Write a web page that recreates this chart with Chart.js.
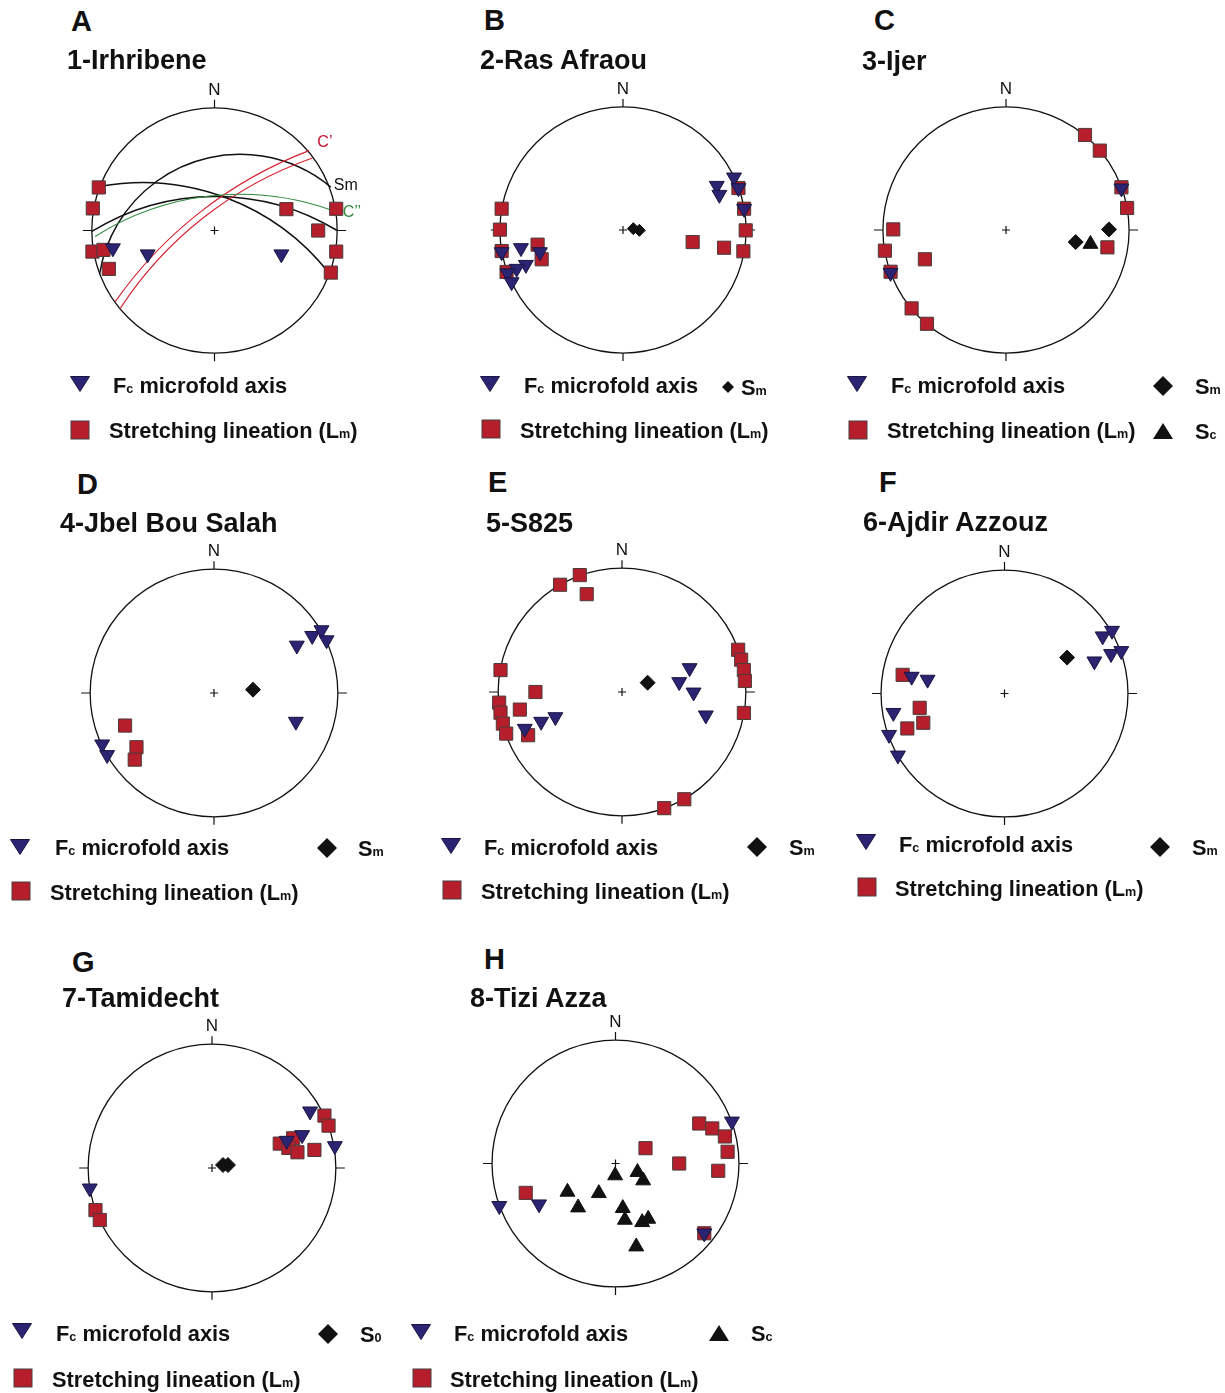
<!DOCTYPE html>
<html>
<head>
<meta charset="utf-8">
<title>Stereonets</title>
<script src="https://cdn.jsdelivr.net/npm/chart.js@4.4.1/dist/chart.umd.min.js"></script>
<style>
    html, body { margin: 0; padding: 0; background: #fff; }
    #page { position: relative; width: 1225px; height: 1393px; overflow: hidden; font-family: "Liberation Sans", Arial, Helvetica, sans-serif; color: #111; }
    #page canvas { position: absolute; }
    .txt { position: absolute; white-space: nowrap; line-height: 1; transform: translateY(-50%); }
    .letter { font-size: 29px; font-weight: bold; }
    .title { font-size: 27px; font-weight: bold; }
    .leg { font-size: 21.8px; font-weight: bold; }
    .leg small { font-size: 0.58em; }
    .sym { position: absolute; }
</style>
</head>
<body>
<div id="page"></div>
<script>
// Projected positions [x, y] on the lower-hemisphere net, unit = primitive radius, north up.

// 1-Irhribene
const irhribeneFold = [[-0.828, -0.144], [-0.545, -0.193], [0.545, -0.193]];
const irhribeneLineation = [
    [-0.943, 0.351], [-0.992, 0.180], [-0.995, -0.172], [-0.905, -0.158], [-0.861, -0.313],
    [0.586, 0.174], [0.992, 0.177], [0.845, 0.0], [0.992, -0.172], [0.948, -0.343],
];
// great circles given as start, inner and end point
const irhribeneSmPlanes = [
    [[-0.937, -0.357], [0.049, 0.610], [0.948, 0.354]],
    [[-0.932, 0.360], [0.030, 0.290], [0.935, -0.349]],
    [[-1.0, -0.008], [0.022, 0.278], [1.0, 0.0]],
];
const irhribeneCPlanes = [
    [[-0.809, -0.580], [-0.117, 0.150], [0.771, 0.651]],
    [[-0.768, -0.635], [-0.060, 0.128], [0.798, 0.591]],
];
const irhribeneCcPlanes = [
    [[-0.973, -0.049], [0.049, 0.289], [0.943, 0.169]],
];

// 2-Ras Afraou
const rasAfraouFold = [
    [-0.986, -0.179], [-0.829, -0.146], [-0.675, -0.179], [-0.789, -0.282], [-0.864, -0.314],
    [-0.938, -0.350], [-0.905, -0.423], [0.762, 0.360], [0.783, 0.287], [0.902, 0.428],
    [0.938, 0.341], [0.984, 0.173],
];
const rasAfraouLineation = [
    [-0.986, 0.173], [-1.0, 0.003], [-0.986, -0.171], [-0.946, -0.341], [-0.694, -0.119],
    [-0.661, -0.238], [0.566, -0.098], [0.821, -0.144], [0.978, -0.173], [0.997, -0.003],
    [0.984, 0.173], [0.938, 0.341],
];
const rasAfraouSm = [[0.084, 0.011], [0.133, -0.003]];

// 3-Ijer
const ijerFold = [[0.938, 0.339], [-0.938, -0.347]];
const ijerLineation = [
    [0.642, 0.772], [0.762, 0.645], [0.938, 0.347], [0.984, 0.179], [-0.916, 0.005],
    [-0.984, -0.168], [-0.938, -0.339], [-0.659, -0.238], [-0.767, -0.637], [-0.642, -0.762],
    [0.824, -0.141],
];
const ijerSm = [[0.837, 0.005], [0.566, -0.098]];
const ijerSc = [[0.686, -0.114]];

// 4-Jbel Bou Salah
const bouSalahFold = [
    [0.669, 0.384], [0.793, 0.462], [0.868, 0.508], [0.909, 0.427], [0.661, -0.231],
    [-0.903, -0.414], [-0.863, -0.500],
];
const bouSalahLineation = [[-0.718, -0.263], [-0.626, -0.438], [-0.640, -0.538]];
const bouSalahSm = [[0.315, 0.027]];

// 5-S825
const s825Fold = [
    [0.546, 0.194], [0.462, 0.081], [0.578, -0.003], [0.677, -0.188], [-0.538, -0.202],
    [-0.653, -0.239], [-0.785, -0.296],
];
const s825Lineation = [
    [-0.500, 0.866], [-0.341, 0.944], [-0.285, 0.790], [-0.981, 0.177], [-0.699, 0.0],
    [-0.992, -0.086], [-0.981, -0.167], [-0.825, -0.142], [-0.962, -0.255], [-0.935, -0.336],
    [-0.758, -0.349], [0.938, 0.341], [0.962, 0.261], [0.984, 0.177], [0.992, 0.089],
    [0.984, -0.169], [0.503, -0.866], [0.341, -0.938],
];
const s825Sm = [[0.207, 0.075]];

// 6-Ajdir Azzouz
const azzouzFold = [
    [0.795, 0.464], [0.871, 0.509], [0.728, 0.261], [0.863, 0.321], [0.946, 0.345],
    [-0.752, 0.137], [-0.623, 0.113], [-0.900, -0.156], [-0.935, -0.334], [-0.863, -0.501],
];
const azzouzLineation = [[-0.825, 0.151], [-0.687, -0.116], [-0.658, -0.237], [-0.787, -0.283]];
const azzouzSm = [[0.507, 0.291]];

// 7-Tamidecht
const tamidechtFold = [[0.792, 0.458], [0.728, 0.267], [0.604, 0.221], [0.992, 0.178], [-0.987, -0.164]];
const tamidechtLineation = [
    [0.908, 0.423], [0.941, 0.342], [0.547, 0.197], [0.655, 0.240], [0.617, 0.162],
    [0.690, 0.127], [0.827, 0.146], [-0.941, -0.340], [-0.906, -0.420],
];
const tamidechtS0 = [[0.089, 0.024], [0.129, 0.024]];

// 8-Tizi Azza
const tiziAzzaFold = [[0.943, 0.341], [-0.941, -0.343], [-0.619, -0.330], [0.719, -0.565]];
const tiziAzzaLineation = [
    [0.678, 0.324], [0.784, 0.284], [0.886, 0.219], [0.908, 0.095], [0.832, -0.059],
    [0.516, 0.0], [0.243, 0.124], [-0.727, -0.238], [0.719, -0.565],
];
const tiziAzzaSc = [
    [-0.003, -0.097], [0.178, -0.070], [0.224, -0.138], [-0.389, -0.230], [-0.135, -0.241],
    [-0.303, -0.357], [0.059, -0.362], [0.076, -0.457], [0.216, -0.476], [0.265, -0.449],
    [0.168, -0.673],
];

const NAVY = '#2b2472';
const RED = '#b61e2b';
const EXTENT = 1.3;

const panels = [
    { letter: 'A', title: '1-Irhribene', cx: 214, cy: 230.5, r: 122.5, lx: 71, ly: 21, tx: 67, ty: 60,
      fold: irhribeneFold, lineation: irhribeneLineation,
      planes: [
          { arcs: irhribeneSmPlanes, color: '#111', width: 1.5 },
          { arcs: irhribeneCPlanes, color: '#d4202e', width: 1.1 },
          { arcs: irhribeneCcPlanes, color: '#2f8a3c', width: 1.1 },
      ],
      notes: [
          { text: 'C\u2019', at: [0.90, 0.72], color: '#c8102e' },
          { text: 'Sm', at: [1.07, 0.37], color: '#111' },
          { text: 'C\u2019\u2019', at: [1.12, 0.15], color: '#2f8a3c' },
      ] },
    { letter: 'B', title: '2-Ras Afraou', cx: 623, cy: 229.7, r: 123, lx: 484, ly: 20, tx: 480, ty: 60,
      fold: rasAfraouFold, lineation: rasAfraouLineation, diamonds: rasAfraouSm, diamondSize: 6 },
    { letter: 'C', title: '3-Ijer', cx: 1006.3, cy: 230, r: 123, lx: 874, ly: 20, tx: 862, ty: 61,
      fold: ijerFold, lineation: ijerLineation, diamonds: ijerSm, triangles: ijerSc },
    { letter: 'D', title: '4-Jbel Bou Salah', cx: 214, cy: 693, r: 124, lx: 77, ly: 484, tx: 60, ty: 523,
      fold: bouSalahFold, lineation: bouSalahLineation, diamonds: bouSalahSm },
    { letter: 'E', title: '5-S825', cx: 621.7, cy: 691.7, r: 124, lx: 488, ly: 482, tx: 486, ty: 523,
      fold: s825Fold, lineation: s825Lineation, diamonds: s825Sm },
    { letter: 'F', title: '6-Ajdir Azzouz', cx: 1004, cy: 693, r: 123.5, lx: 879, ly: 482, tx: 863, ty: 522,
      fold: azzouzFold, lineation: azzouzLineation, diamonds: azzouzSm },
    { letter: 'G', title: '7-Tamidecht', cx: 212.3, cy: 1168, r: 123.7, lx: 72, ly: 962, tx: 62, ty: 998,
      fold: tamidechtFold, lineation: tamidechtLineation, diamonds: tamidechtS0 },
    { letter: 'H', title: '8-Tizi Azza', cx: 615.7, cy: 1163.7, r: 123.3, lx: 484, ly: 959, tx: 470, ty: 998,
      fold: tiziAzzaFold, lineation: tiziAzzaLineation, triangles: tiziAzzaSc },
];

const FOLD_TEXT = 'F<small>c</small> microfold axis';
const LINEATION_TEXT = 'Stretching lineation (L<small>m</small>)';

// legend rows: symbol, symbol centre, text left / middle
const legends = [
    ['tri', 80, 384, 113, 386, FOLD_TEXT], ['sq', 80, 430, 109, 431, LINEATION_TEXT],
    ['tri', 490, 384, 524, 386, FOLD_TEXT], ['dia-s', 728, 387, 741, 388, 'S<small>m</small>'],
    ['sq', 491, 429, 520, 431, LINEATION_TEXT],
    ['tri', 857, 384, 891, 386, FOLD_TEXT], ['dia', 1163, 386, 1195, 387, 'S<small>m</small>'],
    ['sq', 858, 430, 887, 431, LINEATION_TEXT], ['up', 1163, 431, 1195, 432, 'S<small>c</small>'],
    ['tri', 20, 847, 55, 848, FOLD_TEXT], ['dia', 327, 848, 358, 849, 'S<small>m</small>'],
    ['sq', 21, 891, 50, 893, LINEATION_TEXT],
    ['tri', 451, 846, 484, 848, FOLD_TEXT], ['dia', 757, 847, 789, 848, 'S<small>m</small>'],
    ['sq', 452, 890, 481, 892, LINEATION_TEXT],
    ['tri', 866, 842, 899, 845, FOLD_TEXT], ['dia', 1160, 847, 1192, 848, 'S<small>m</small>'],
    ['sq', 867, 887, 895, 889, LINEATION_TEXT],
    ['tri', 22, 1331, 56, 1334, FOLD_TEXT], ['dia', 328, 1334, 360, 1335, 'S<small>0</small>'],
    ['sq', 23, 1378, 52, 1380, LINEATION_TEXT],
    ['tri', 421, 1332, 454, 1334, FOLD_TEXT], ['up', 719, 1333, 751, 1334, 'S<small>c</small>'],
    ['sq', 422, 1378, 450, 1380, LINEATION_TEXT],
];

const SYMBOLS = {
    tri: '<svg width="22" height="18"><polygon points="1.5,1.5 20.5,1.5 11,16.5" fill="' + NAVY + '" stroke="#1a1440"/></svg>',
    sq: '<svg width="20" height="20"><rect x="1" y="1" width="18" height="18" fill="' + RED + '" stroke="#4b3c3c"/></svg>',
    dia: '<svg width="22" height="22"><polygon points="11,1 21,11 11,21 1,11" fill="#111"/></svg>',
    'dia-s': '<svg width="14" height="14"><polygon points="7,1 13,7 7,13 1,7" fill="#111"/></svg>',
    up: '<svg width="22" height="18"><polygon points="11,1 21,17 1,17" fill="#111"/></svg>',
};

function toPoints(list) {
    return (list ?? []).map(([x, y]) => ({ x, y }));
}

function circleThrough(a, b, c) {
    const d = 2 * (a.x * (b.y - c.y) + b.x * (c.y - a.y) + c.x * (a.y - b.y));
    const a2 = a.x * a.x + a.y * a.y;
    const b2 = b.x * b.x + b.y * b.y;
    const c2 = c.x * c.x + c.y * c.y;
    const ux = (a2 * (b.y - c.y) + b2 * (c.y - a.y) + c2 * (a.y - b.y)) / d;
    const uy = (a2 * (c.x - b.x) + b2 * (a.x - c.x) + c2 * (b.x - a.x)) / d;

    return { x: ux, y: uy, r: Math.hypot(a.x - ux, a.y - uy) };
}

function wrap(angle) {
    const full = Math.PI * 2;

    return ((angle % full) + full) % full;
}

// primitive circle, N/E/S/W ticks, centre cross, great circles and their labels
const stereonetFrame = {
    id: 'stereonetFrame',
    beforeDatasetsDraw(chart, args, opts) {
        const { ctx } = chart;
        const sx = chart.scales.x;
        const sy = chart.scales.y;
        const px = (p) => ({ x: sx.getPixelForValue(p[0]), y: sy.getPixelForValue(p[1]) });
        const cx = sx.getPixelForValue(0);
        const cy = sy.getPixelForValue(0);
        const r = sx.getPixelForValue(1) - cx;

        ctx.save();
        ctx.strokeStyle = '#111';
        ctx.lineWidth = 1.3;
        ctx.beginPath();
        ctx.arc(cx, cy, r, 0, Math.PI * 2);
        ctx.stroke();

        ctx.lineWidth = 1.2;
        ctx.beginPath();
        ctx.moveTo(cx, cy - r);
        ctx.lineTo(cx, cy - r - 8);
        ctx.moveTo(cx, cy + r);
        ctx.lineTo(cx, cy + r + 8);
        ctx.moveTo(cx - r, cy);
        ctx.lineTo(cx - r - 9, cy);
        ctx.moveTo(cx + r, cy);
        ctx.lineTo(cx + r + 9, cy);
        ctx.moveTo(cx - 4, cy);
        ctx.lineTo(cx + 4, cy);
        ctx.moveTo(cx, cy - 4);
        ctx.lineTo(cx, cy + 4);
        ctx.stroke();

        ctx.fillStyle = '#111';
        ctx.font = '17px "Liberation Sans", Arial, sans-serif';
        ctx.textAlign = 'center';
        ctx.textBaseline = 'alphabetic';
        ctx.fillText('N', cx, cy - r - 13);

        (opts.planes ?? []).forEach((set) => {
            ctx.strokeStyle = set.color;
            ctx.lineWidth = set.width;
            set.arcs.forEach((arc) => {
                const [p1, p2, p3] = arc.map(px);
                const c = circleThrough(p1, p2, p3);
                const a1 = Math.atan2(p1.y - c.y, p1.x - c.x);
                const a2 = Math.atan2(p2.y - c.y, p2.x - c.x);
                const a3 = Math.atan2(p3.y - c.y, p3.x - c.x);
                const reverse = wrap(a2 - a1) > wrap(a3 - a1);
                ctx.beginPath();
                ctx.arc(c.x, c.y, c.r, a1, a3, reverse);
                ctx.stroke();
            });
        });

        ctx.font = '16px "Liberation Sans", Arial, sans-serif';
        ctx.textAlign = 'center';
        ctx.textBaseline = 'middle';
        (opts.notes ?? []).forEach((note) => {
            const p = px(note.at);
            ctx.fillStyle = note.color;
            ctx.fillText(note.text, p.x, p.y);
        });
        ctx.restore();
    },
};

function addText(page, cls, x, y, html) {
    const el = document.createElement('div');
    el.className = 'txt ' + cls;
    el.style.left = x + 'px';
    el.style.top = y + 'px';
    el.innerHTML = html;
    page.appendChild(el);
}

function renderPanel(page, panel) {
    const size = Math.round(2 * panel.r * EXTENT);
    const canvas = document.createElement('canvas');
    canvas.width = size;
    canvas.height = size;
    canvas.style.left = (panel.cx - size / 2) + 'px';
    canvas.style.top = (panel.cy - size / 2) + 'px';
    page.appendChild(canvas);

    const datasets = [
        {
            data: toPoints(panel.fold),
            pointStyle: 'triangle',
            rotation: 180,
            pointRadius: 8.6,
            backgroundColor: NAVY,
            borderColor: '#1a1440',
            borderWidth: 1,
        },
        {
            data: toPoints(panel.triangles),
            pointStyle: 'triangle',
            pointRadius: 8.6,
            backgroundColor: '#111',
            borderColor: '#111',
            borderWidth: 1,
        },
        {
            data: toPoints(panel.diamonds),
            pointStyle: 'rectRot',
            pointRadius: panel.diamondSize ?? 7.5,
            backgroundColor: '#111',
            borderColor: '#111',
            borderWidth: 1,
        },
        {
            data: toPoints(panel.lineation),
            pointStyle: 'rect',
            pointRadius: 9.3,
            backgroundColor: RED,
            borderColor: '#4b3c3c',
            borderWidth: 1,
        },
    ];

    new Chart(canvas, {
        type: 'scatter',
        data: { datasets },
        options: {
            responsive: false,
            maintainAspectRatio: false,
            animation: false,
            events: [],
            devicePixelRatio: 1,
            layout: { padding: 0, autoPadding: false },
            clip: false,
            plugins: {
                legend: { display: false },
                tooltip: { enabled: false },
                stereonetFrame: { planes: panel.planes, notes: panel.notes },
            },
            scales: {
                x: { type: 'linear', min: -EXTENT, max: EXTENT, display: false },
                y: { type: 'linear', min: -EXTENT, max: EXTENT, display: false },
            },
        },
        plugins: [stereonetFrame],
    });

    addText(page, 'letter', panel.lx, panel.ly, panel.letter);
    addText(page, 'title', panel.tx, panel.ty, panel.title);
}

function renderLegends(page) {
    legends.forEach(([sym, sx, sy, tx, ty, html]) => {
        const holder = document.createElement('div');
        holder.className = 'sym';
        holder.innerHTML = SYMBOLS[sym];
        const svg = holder.firstChild;
        const w = Number(svg.getAttribute('width'));
        const h = Number(svg.getAttribute('height'));
        holder.style.left = (sx - w / 2) + 'px';
        holder.style.top = (sy - h / 2) + 'px';
        holder.style.width = w + 'px';
        holder.style.height = h + 'px';
        page.appendChild(holder);
        addText(page, 'leg', tx, ty, html);
    });
}

const page = document.getElementById('page');
panels.forEach((panel) => renderPanel(page, panel));
renderLegends(page);
</script>
</body>
</html>
